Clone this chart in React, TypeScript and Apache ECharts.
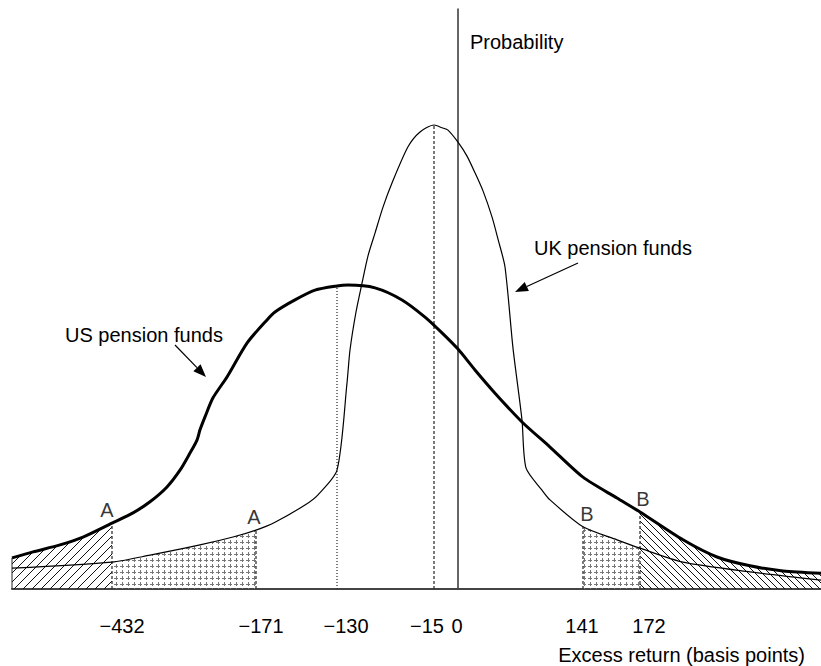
import React, { useEffect, useRef } from "react";
import * as echarts from "echarts";

// Schematic horizontal position (0 = zero excess return) and relative probability height
const usX = [-446, -425, -398, -375, -346, -325, -308, -291, -278, -268, -261, -258, -253, -245, -231, -211, -191, -183, -163, -143, -121, -110, -83, -56, -33, -16, 0, 17, 37, 64, 92, 125, 159, 182, 225, 259, 292, 325, 363];
const usY = [6.7, 8.0, 9.5, 11.2, 14.2, 16.4, 18.8, 22.0, 25.6, 29.3, 32.1, 34.3, 37.1, 41.2, 45.7, 53.0, 58.0, 59.7, 62.3, 64.4, 65.3, 65.5, 64.9, 62.3, 58.6, 55.2, 51.7, 47.2, 42.2, 36.0, 30.6, 24.1, 19.6, 16.6, 10.6, 6.9, 5.0, 3.9, 3.4];

const ukX = [-446, -346, -308, -258, -225, -202, -183, -153, -140, -121, -111, -108, -102, -96, -90, -83, -75, -66, -50, -38, -24, -16, -10, 0, 9, 17, 25, 34, 40, 47, 55, 64, 68, 84, 92, 125, 159, 182, 225, 292, 363];
const ukY = [4.5, 5.8, 7.3, 9.5, 11.2, 12.7, 14.4, 18.1, 20.3, 25.6, 44.4, 51.5, 59.7, 65.9, 71.8, 76.7, 82.3, 87.5, 95.3, 98.5, 100, 99.4, 98.9, 96.3, 93.3, 89.7, 85.8, 80.2, 75.4, 69.4, 51.9, 36.4, 26.1, 21.3, 19.2, 13.4, 10.6, 8.8, 5.8, 3.7, 1.9];

// Marked points on the excess-return axis
const markerPos = [-346, -202, -121, -24, 125, 182];
const markerCurve = ["US", "UK", "US", "UK", "UK", "US"];
const markerDash = ["dashed", "dashed", "dotted", "dashed", "dashed", "dashed"];

// Tick labels (basis points) and where they sit on the schematic axis
const tickLabels = ["−432", "−171", "−130", "−15", "0", "141", "172"];
const tickPos = [-336, -197, -112, -31, -1, 124, 191];

// Tail letters
const tailLetters = ["A", "A", "B", "B"];
const tailPos = [-346, -202, 125, 182];
const tailCurve = ["US", "UK", "UK", "US"];

const FONT = '"Liberation Sans", Arial, Helvetica, sans-serif';
const SMOOTH = 0.25;

function yAt(xs: number[], ys: number[], x: number): number {
  for (let i = 0; i < xs.length - 1; i++) {
    if (x >= xs[i] && x <= xs[i + 1]) {
      const t = (x - xs[i]) / (xs[i + 1] - xs[i]);
      return ys[i] + t * (ys[i + 1] - ys[i]);
    }
  }
  return ys[ys.length - 1];
}

function slice(xs: number[], ys: number[], a: number, b: number) {
  const out: number[][] = [];
  xs.forEach((x, i) => {
    if (x >= a && x <= b) out.push([x, ys[i]]);
  });
  return out;
}

function makePattern(kind: "fwd" | "back" | "cross") {
  const size = kind === "fwd" ? 9 : kind === "back" ? 7 : 6;
  const c = document.createElement("canvas");
  c.width = size;
  c.height = size;
  const ctx = c.getContext("2d")!;
  ctx.strokeStyle = "#111";
  ctx.fillStyle = "#777";
  ctx.lineWidth = 1;
  if (kind === "fwd") {
    ctx.beginPath();
    ctx.moveTo(0, size); ctx.lineTo(size, 0);
    ctx.moveTo(-1, 1); ctx.lineTo(1, -1);
    ctx.moveTo(size - 1, size + 1); ctx.lineTo(size + 1, size - 1);
    ctx.stroke();
  } else if (kind === "back") {
    ctx.beginPath();
    ctx.moveTo(0, 0); ctx.lineTo(size, size);
    ctx.moveTo(-1, size - 1); ctx.lineTo(1, size + 1);
    ctx.moveTo(size - 1, -1); ctx.lineTo(size + 1, 1);
    ctx.stroke();
  } else {
    ctx.fillRect(2, 0, 1, 4);
    ctx.fillRect(0, 2, 4, 1);
  }
  return { image: c, repeat: "repeat", imageWidth: size, imageHeight: size } as any;
}

function arrow(x1: number, y1: number, x2: number, y2: number) {
  const dx = x2 - x1, dy = y2 - y1;
  const L = Math.hypot(dx, dy);
  const ux = dx / L, uy = dy / L;
  const len = 13, hw = 5;
  const bx = x2 - ux * len, by = y2 - uy * len;
  const px = -uy * hw, py = ux * hw;
  return [
    { type: "line", shape: { x1, y1, x2: bx, y2: by }, style: { stroke: "#000", lineWidth: 1.2 } },
    { type: "polygon", shape: { points: [[x2, y2], [bx + px, by + py], [bx - px, by - py]] }, style: { fill: "#000" } },
  ];
}

export default function App() {
  const ref = useRef<HTMLDivElement>(null);
  useEffect(() => {
    if (!ref.current) return;
    const chart = echarts.init(ref.current, null, { renderer: "svg" });
    const curves: Record<string, [number[], number[]]> = { US: [usX, usY], UK: [ukX, ukY] };

    const areaSeries = [
      { data: slice(usX, usY, -446, -346), pat: makePattern("fwd") },
      { data: slice(ukX, ukY, -346, -202), pat: makePattern("cross") },
      { data: slice(ukX, ukY, 125, 182), pat: makePattern("cross") },
      { data: slice(usX, usY, 182, 363), pat: makePattern("back") },
    ].map((a) => ({
      type: "line",
      data: a.data,
      symbol: "none",
      silent: true,
      smooth: SMOOTH,
      lineStyle: { width: 0, opacity: 0 },
      areaStyle: { color: a.pat, opacity: 1 },
      z: 1,
    }));

    const guideSeries = markerPos.map((x, i) => {
      const [xs, ys] = curves[markerCurve[i]];
      const dotted = markerDash[i] === "dotted";
      return {
        type: "line",
        data: [[x, 0], [x, yAt(xs, ys, x)]],
        symbol: "none",
        silent: true,
        lineStyle: { color: "#333", width: 1.3, type: dotted ? [1, 2] : [3, 2] },
        z: 2,
      };
    });

    const borderSeries = {
      type: "line",
      data: [[usX[0], 0], [usX[0], usY[0]]],
      symbol: "none",
      silent: true,
      lineStyle: { color: "#222", width: 1 },
      z: 2,
    };

    const letterSeries = {
      type: "scatter",
      symbolSize: 0,
      silent: true,
      data: tailLetters.map((t, i) => {
        const [xs, ys] = curves[tailCurve[i]];
        return {
          value: [tailPos[i], yAt(xs, ys, tailPos[i])],
          name: t,
          label: { offset: [i === 0 ? -5 : i === 2 ? 4 : i === 1 ? -2 : 3, 0] },
        };
      }),
      label: {
        show: true,
        position: "top",
        distance: 3,
        formatter: (p: any) => p.name,
        fontFamily: FONT,
        fontSize: 20,
        color: "#000",
      },
      z: 5,
    };

    chart.setOption({
      animation: false,
      backgroundColor: "#fff",
      grid: { left: 12, right: 0, top: 9, bottom: 77 },
      xAxis: {
        type: "value",
        min: -446,
        max: 363,
        splitLine: { show: false },
        axisTick: { show: false },
        axisLine: { show: true, lineStyle: { color: "#444", width: 2 } },
        axisLabel: {
          customValues: tickPos,
          margin: 27,
          fontFamily: FONT,
          fontSize: 20,
          color: "#000",
          showMinLabel: true,
          showMaxLabel: true,
          formatter: (v: number) => {
            let best = 0, bd = Infinity;
            tickPos.forEach((p, i) => {
              const d = Math.abs(p - v);
              if (d < bd) { bd = d; best = i; }
            });
            return tickLabels[best];
          },
        },
      },
      yAxis: {
        type: "value",
        min: 0,
        max: 125,
        splitLine: { show: false },
        axisTick: { show: false },
        axisLabel: { show: false },
        axisLine: { show: true, onZero: true, lineStyle: { color: "#333", width: 1.5 } },
      },
      series: [
        ...areaSeries,
        ...guideSeries,
        borderSeries,
        {
          name: "UK pension funds",
          type: "line",
          data: ukX.map((x, i) => [x, ukY[i]]),
          symbol: "none",
          smooth: SMOOTH,
          lineStyle: { color: "#000", width: 1.2 },
          z: 3,
        },
        {
          name: "US pension funds",
          type: "line",
          data: usX.map((x, i) => [x, usY[i]]),
          symbol: "none",
          smooth: SMOOTH,
          lineStyle: { color: "#000", width: 3 },
          z: 4,
        },
        letterSeries,
      ],
      graphic: [
        { type: "text", x: 470, y: 42, style: { text: "Probability", font: `20px ${FONT}`, fill: "#000", align: "left", verticalAlign: "middle" } },
        { type: "text", x: 805, y: 655, style: { text: "Excess return (basis points)", font: `20px ${FONT}`, fill: "#000", align: "right", verticalAlign: "middle" } },
        { type: "text", x: 65, y: 335, style: { text: "US pension funds", font: `20px ${FONT}`, fill: "#000", align: "left", verticalAlign: "middle" } },
        { type: "text", x: 534, y: 248, style: { text: "UK pension funds", font: `20px ${FONT}`, fill: "#000", align: "left", verticalAlign: "middle" } },
        ...arrow(175, 345, 206, 377),
        ...arrow(578, 263, 515, 292),
      ],
    } as any);
    return () => chart.dispose();
  }, []);
  return <div ref={ref} style={{ position: "fixed", left: 0, top: 0, width: 821, height: 666 }} />;
}
